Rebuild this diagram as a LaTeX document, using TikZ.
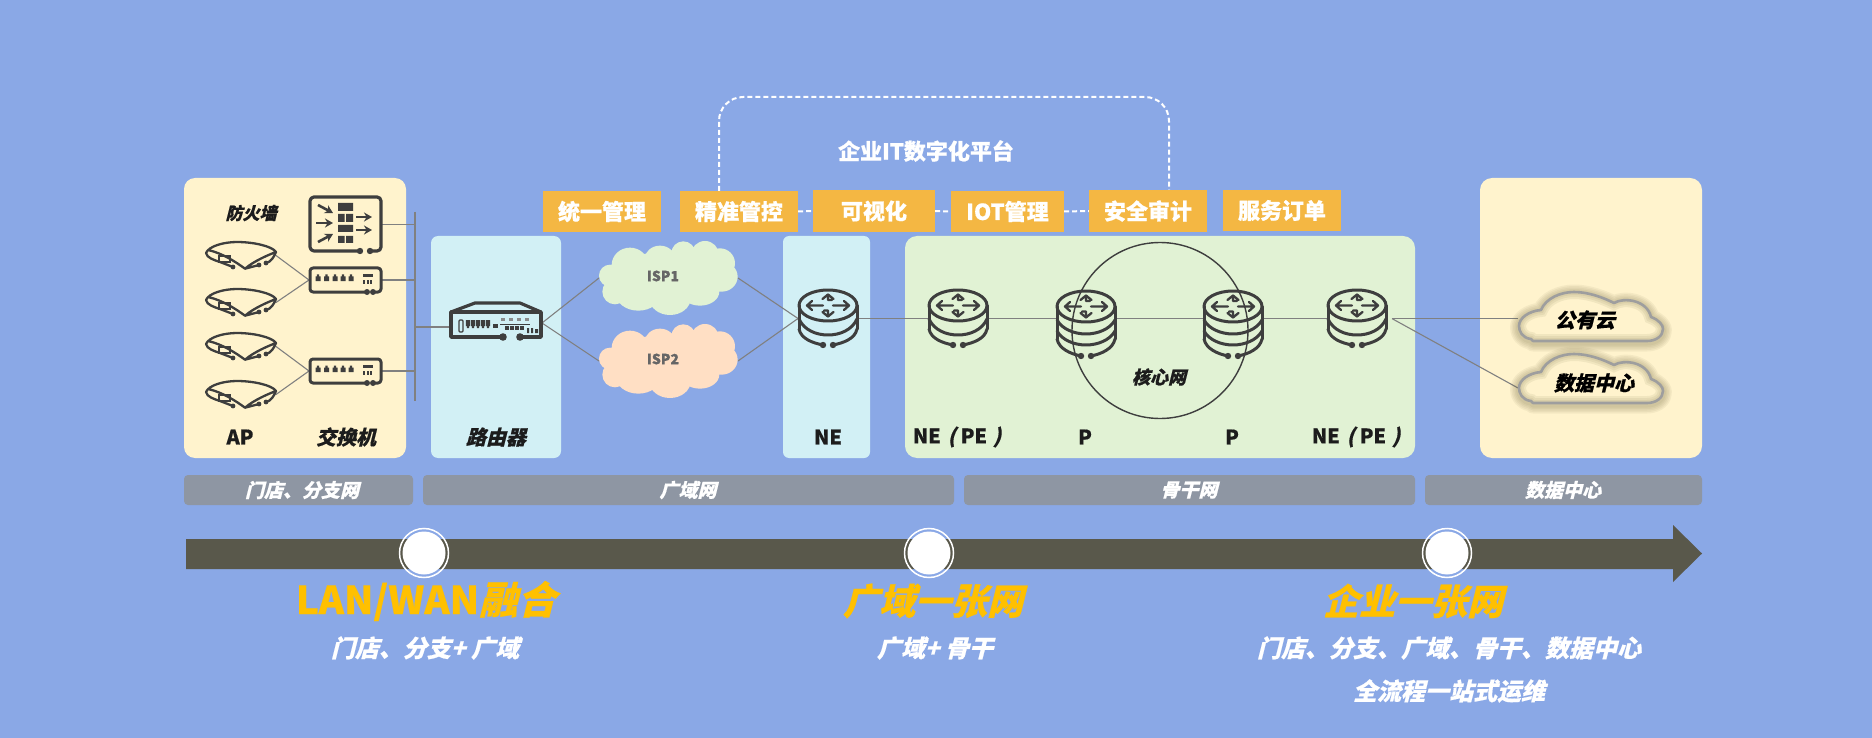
\documentclass[tikz,border=0pt]{standalone}
\usepackage{fontspec}
\setmainfont{Noto Sans CJK SC}[BoldFeatures={FakeBold=0.6}]
\newfontfamily\cjkit{Noto Sans CJK SC}[FakeSlant=0.25,BoldFeatures={FakeBold=0.6}]
\definecolor{bgblue}{RGB}{138,168,230}
\definecolor{paneY}{RGB}{255,243,205}
\definecolor{paneB}{RGB}{210,240,245}
\definecolor{paneG}{RGB}{225,242,212}
\definecolor{boxO}{RGB}{244,183,67}
\definecolor{stripG}{RGB}{142,150,163}
\definecolor{arrowD}{RGB}{89,88,75}
\definecolor{icondk}{RGB}{62,62,62}
\definecolor{linkG}{RGB}{128,128,128}
\definecolor{gold}{RGB}{255,192,0}
\definecolor{ispO}{RGB}{255,223,196}
\definecolor{txtD}{RGB}{28,28,28}
\definecolor{cloudL}{RGB}{158,158,158}
\definecolor{glow}{RGB}{110,100,60}
\newcommand{\fsz}[1]{\fontsize{#1}{#1}\selectfont}
\newcommand{\cyltop}{%
  \draw[icon] (30,16.5) ellipse [x radius=29, y radius=15.5];
  \draw[icon,line width=2.3pt]
    (25,16.5)--(9,16.5) (14,12)--(9,16.5)--(14,21)
    (35,16.5)--(51,16.5) (46,12)--(51,16.5)--(46,21)
    (24.5,10)--(30,5.5)--(35.5,10) (30,5.5)--(30,11)--(34,11)
    (24.5,23)--(30,27.5)--(35.5,23) (30,27.5)--(30,21.5)--(26,21.5);
}
\newcommand{\peText}{NE\hspace{7pt}{\cjkit(}\hspace{5pt}PE\hspace{6pt}{\cjkit)}}
\tikzset{
  x=1pt,y=-1pt,
  icon/.style={draw=icondk,line width=3pt,line cap=round,line join=round},
  link/.style={draw=linkG,line width=1.1pt},
  panel/.style={rounded corners=#1},
  iconbox/.style={inner sep=0pt,outer sep=0pt,anchor=north west},
  orangebox/.style={fill=boxO,inner sep=0pt,text=white,font=\bfseries\fsz{22}},
  strip/.style={fill=stripG,rounded corners=4pt},
  striptext/.style={text=white,font=\cjkit\bfseries\fsz{19}},
  lbl/.style={text=txtD,font=\bfseries\fsz{20}},
  lblit/.style={text=txtD,font=\cjkit\bfseries\fsz{20}},
  headline/.style={text=gold,font=\bfseries\fsz{38.5}},
  subline/.style={text=white,font=\cjkit\bfseries\fsz{24}},
  dashline/.style={draw=white,line width=2pt,dash pattern=on 5pt off 3pt},
  pics/cyltwo/.style={code={
    \cyltop
    \draw[icon] (1,16.5)--(1,40) (59,16.5)--(59,40);
    \draw[icon] (1,30) .. controls (6,41) and (18,46) .. (30,46) .. controls (42,46) and (54,41) .. (59,30);
    \draw[icon] (1,40) .. controls (3,50) and (15,54) .. (25,56);
    \draw[icon] (59,40) .. controls (57,50) and (45,54) .. (35,56);
    \fill[icondk] (25,56) circle (3.2pt) (35,56) circle (3.2pt);
  }},
  pics/cylthree/.style={code={
    \begin{scope}[yshift=-1pt]
    \cyltop
    \draw[icon] (1,16.5)--(1,49) (59,16.5)--(59,49);
    \draw[icon] (1,30) .. controls (6,39) and (18,44) .. (30,44) .. controls (42,44) and (54,39) .. (59,30);
    \draw[icon] (1,41) .. controls (6,50) and (18,55) .. (30,55) .. controls (42,55) and (54,50) .. (59,41);
    \draw[icon] (1,49) .. controls (3,59) and (15,64) .. (25,66);
    \draw[icon] (59,49) .. controls (57,59) and (45,64) .. (35,66);
    \fill[icondk] (25,66) circle (3.2pt) (35,66) circle (3.2pt);
    \end{scope}
  }},
  pics/apicon/.style={code={
    \draw[icondk,line width=2.3pt,line cap=round,line join=round]
      (0,11) .. controls (3,4) and (18,0) .. (31,0) .. controls (47,0) and (66,4) .. (70,10)
      .. controls (62,13) and (48,19) .. (39,26.7)
      .. controls (30,20) and (16,11) .. (2,8)
      (0,11) .. controls (1,16) and (8,18) .. (14,20) -- (27,25)
      (39,26.7) -- (53,23) (60,21) .. controls (65,20) and (68,15) .. (70,10);
    \draw[icondk,line width=1.4pt] (13,14) rectangle (24,20);
    \fill[icondk] (27,25) circle (2.4pt) (53,23) circle (2.4pt) (60,21) circle (2.4pt);
  }},
  pics/swicon/.style={code={
    \draw[icondk,line width=3pt,line cap=round,line join=round,rounded corners=3pt]
      (58,25) -- (1,25) -- (1,1) -- (72,1) -- (72,25) -- (64,25);
    \fill[icondk] (58,25) circle (3pt) (64,25) circle (3pt);
    \foreach \px in {9,17.5,26,34,42}
      {\fill[icondk] (\px-2.5,14) rectangle (\px+2.5,9.5) (\px-1.2,9.5) rectangle (\px+1.2,7.5);}
    \fill[icondk] (54,7) rectangle (63.5,10);
    \foreach \px in {54,57.5,61}
      {\fill[icondk] (\px,13) rectangle (\px+2.4,17);}
  }},
  pics/fwicon/.style={code={
    \draw[icondk,line width=3.2pt,line cap=round,line join=round,rounded corners=4pt]
      (51,55) -- (1,55) -- (1,1) -- (72,1) -- (72,55) -- (61,55);
    \fill[icondk] (51,55) circle (3.2pt) (61,55) circle (3.2pt);
    \fill[icondk] (29,7) rectangle (44,15) (29,18) rectangle (35.5,26) (37,18) rectangle (44,26)
      (29,29) rectangle (44,36) (29,40) rectangle (35.5,47) (37,40) rectangle (44,47);
    \begin{scope}[icondk,line width=2.6pt,-{Stealth[length=8pt,width=9pt]}]
      \draw (9,9)--(24,17);
      \draw (7,27)--(24,27);
      \draw (9,46)--(24,38);
      \draw (47,21)--(63,21);
      \draw (47,34)--(63,34);
    \end{scope}
  }},
  pics/rticon/.style={code={
    \draw[icondk,line width=3.2pt,line join=round] (0,10)--(24,1)--(69,1)--(90,10);
    \draw[icondk,line width=3.4pt,line join=round]
      (52,35)--(0,35)--(0,10)--(90,10)--(90,35)--(69,35);
    \fill[icondk] (52,35) circle (3.8pt) (69,35) circle (3.8pt);
    \draw[icondk,line width=1.3pt,rounded corners=1pt] (8,18) rectangle (12,30);
    \foreach \px in {17,22,27,32,37}
      {\fill[icondk] (\px-2.2,18) rectangle (\px+2.2,24) (\px-1.1,24) rectangle (\px+1.1,26);}
    \fill[icondk] (42,26) rectangle (47,22);
    \foreach \px in {51.5,59.5,67.5,76}
      {\fill[icondk!60] (\px-2,15.5) rectangle (\px+2,19);}
    \draw[icondk,line width=1pt] (49,22)--(79,22);
    \foreach \px in {56,61,66,71}
      {\fill[icondk] (\px-2,24) rectangle (\px+2,28);}
    \fill[icondk] (76,26) rectangle (78,31) (80,26) rectangle (82,31) (84,27) rectangle (87,31);
  }},
  pics/ispcloud/.style={code={
    \begin{scope}[x=.3333pt,y=-.3333pt,xshift=-19pt,yshift=21pt]
    \fill[#1] (90,167) circle (33)
      (150,135) ellipse [x radius=55,y radius=52]
      (240,115) ellipse [x radius=45,y radius=38]
      (310,100) circle (36)
      (375,105) circle (42)
      (420,130) circle (45)
      (425,170) ellipse [x radius=48,y radius=45]
      (360,215) ellipse [x radius=58,y radius=42]
      (270,235) ellipse [x radius=62,y radius=50]
      (175,220) ellipse [x radius=68,y radius=52]
      (105,215) circle (38)
      (260,170) ellipse [x radius=160,y radius=75];
    \end{scope}
  }},
  pics/dccloud/.style={code={
    \def\cloudpath{(12,48) .. controls (3,47) and (0,40) .. (0,35)
      .. controls (0,27) and (10,20) .. (22,19)
      .. controls (27,7) and (42,1) .. (55,1)
      .. controls (70,1) and (85,7) .. (95,12)
      .. controls (105,6) and (128,9) .. (132,26)
      .. controls (140,29) and (144,34) .. (144,38)
      .. controls (144,45) and (137,50) .. (128,50) -- (14,50) -- cycle}
    \foreach \w in {18,15,12,9,6}
      {\draw[glow,line width=\w pt,opacity=.07,line join=round,yshift=-1.5pt] \cloudpath;}
    \fill[paneY] \cloudpath;
    \begin{scope}
    \clip \cloudpath;
    \foreach \w in {14,10,6}
      {\draw[glow,line width=\w pt,opacity=.09] \cloudpath;}
    \end{scope}
    \draw[cloudL,line width=2.6pt,line join=round] \cloudpath;
  }},
}
\usetikzlibrary{arrows.meta}
\begin{document}
\begin{tikzpicture}
\useasboundingbox (0,0) rectangle (1872,738);
\fill[bgblue] (0,0) rectangle (1872,738);

% panels
\fill[paneY,panel=11pt] (184,178) rectangle (406,458);
\fill[paneB,panel=7pt] (431,236) rectangle (561,458);
\fill[paneB,panel=6pt] (783,236) rectangle (870,458);
\fill[paneG,panel=12pt] (905,236) rectangle (1415,458);
\fill[paneY,panel=12pt] (1480,178) rectangle (1702,458);

% dashed platform frame
\coordinate (dashA) at (719,191);
\coordinate (dashB) at (1169,190);
\draw[dashline,rounded corners=24pt] (dashA) -- (719,97) -- (1169,97) -- (dashB);
\node[lbl,text=white,font=\bfseries\fsz{22}] (plat) at (926,151) {企业IT数字化平台};

% orange boxes
\node[orangebox,minimum width=118pt,minimum height=41pt] (b1) at (602,211.5) {统一管理};
\node[orangebox,minimum width=118pt,minimum height=41pt] (b2) at (739,211.5) {精准管控};
\node[orangebox,minimum width=122pt,minimum height=42pt] (b3) at (874,211) {可视化};
\node[orangebox,minimum width=113pt,minimum height=41pt] (b4) at (1007.5,211.5) {IOT管理};
\node[orangebox,minimum width=118pt,minimum height=42pt] (b5) at (1148,211) {安全审计};
\node[orangebox,minimum width=118pt,minimum height=41pt] (b6) at (1282,210.5) {服务订单};
\draw[dashline] (b2.east) -- (b3.west);
\draw[dashline] (b3.east) -- (b4.west);
\draw[dashline] (b4.east) -- (b5.west);

% nodes for icons
\node[iconbox,minimum width=73pt,minimum height=57pt] (fw) at (309,196) {};
\node[iconbox,minimum width=73pt,minimum height=26pt] (sw1) at (309,267) {};
\node[iconbox,minimum width=73pt,minimum height=26pt] (sw2) at (309,358) {};
\node[iconbox,minimum width=70pt,minimum height=27pt] (ap1) at (206,242) {};
\node[iconbox,minimum width=70pt,minimum height=27pt] (ap2) at (206,289) {};
\node[iconbox,minimum width=70pt,minimum height=27pt] (ap3) at (206,333) {};
\node[iconbox,minimum width=70pt,minimum height=27pt] (ap4) at (206,381) {};
\node[iconbox,minimum width=90pt,minimum height=36pt] (rt) at (451,302) {};
\node[iconbox,minimum width=139pt,minimum height=74pt] (isp1) at (599,241) {};
\node[iconbox,minimum width=139pt,minimum height=74pt] (isp2) at (599,324) {};
\node[iconbox,minimum width=60pt,minimum height=59pt] (ne0) at (798,289) {};
\node[iconbox,minimum width=60pt,minimum height=59pt] (pe1) at (928,289) {};
\node[iconbox,minimum width=60pt,minimum height=59pt] (p1) at (1056,289) {};
\node[iconbox,minimum width=60pt,minimum height=59pt] (p2) at (1203,289) {};
\node[iconbox,minimum width=60pt,minimum height=59pt] (pe2) at (1327,289) {};
\node[iconbox,minimum width=144pt,minimum height=50pt] (cl1) at (1519,291) {};
\node[iconbox,minimum width=144pt,minimum height=50pt] (cl2) at (1519,353) {};

\coordinate (busT) at (415,212);
\coordinate (busB) at (415,401);
\coordinate (rtL) at (449,327);
\coordinate (rtR) at (542,323);
\coordinate (peR) at (1392,318.6);
\coordinate (cl1L) at (1518,318.6);
\coordinate (cl2L) at (1518,388);

% connectors
\draw[link] (busT) -- (busB);
\draw[link] (fw.east) -- (fw.east -| busT);
\draw[link] (sw1.east) -- (sw1.east -| busT);
\draw[link] (sw2.east) -- (sw2.east -| busT);
\draw[link] (rtL) -- (rtL -| busT);
\draw[link] (ap1.east) -- (sw1.west);
\draw[link] (ap2.east) -- (sw1.west);
\draw[link] (ap3.east) -- (sw2.west);
\draw[link] (ap4.east) -- (sw2.west);
\draw[link] (rtR) -- (isp1.west);
\draw[link] (rtR) -- (isp2.west);
\draw[link] (isp1.east) -- (ne0.west);
\draw[link] (isp2.east) -- (ne0.west);
\draw[link] (ne0.east) -- (pe1.west);
\draw[link] (pe1.east) -- (p1.west);
\draw[link] (p1.east) -- (p2.west);
\draw[link] (p2.east) -- (pe2.west);
\draw[link] (peR) -- (cl1L);
\draw[link] (peR) -- (cl2L);

% icons
\path (fw.north west) pic {fwicon};
\path (sw1.north west) pic {swicon};
\path (sw2.north west) pic {swicon};
\path (ap1.north west) pic {apicon};
\path (ap2.north west) pic {apicon};
\path (ap3.north west) pic {apicon};
\path (ap4.north west) pic {apicon};
\path (rt.north west) pic {rticon};
\path (isp1.north west) pic {ispcloud={paneG}};
\path (isp2.north west) pic {ispcloud={ispO}};
\path (ne0.north west) pic {cyltwo};
\path (pe1.north west) pic {cyltwo};
\path (p1.north west) pic {cylthree};
\path (p2.north west) pic {cylthree};
\path (pe2.north west) pic {cyltwo};
\path (cl1.north west) pic {dccloud};
\path (cl2.north west) pic {dccloud};

% core network circle
\node[draw=icondk,line width=1.4pt,circle,minimum size=176pt,inner sep=0pt] (core) at (1160,330.5) {};

% labels in panels
\node[lblit,font=\cjkit\bfseries\fsz{17}] (tFw) at (251,213) {防火墙};
\node[lbl] (tAp) at (240,437) {AP};
\node[lblit] (tSw) at (346,437) {交换机};
\node[lblit] (tRt) at (496,437) {路由器};
\node[lbl,text=black!60,font=\bfseries\fsz{14}] (tI1) at (663,276) {ISP1};
\node[lbl,text=black!60,font=\bfseries\fsz{14}] (tI2) at (663,359) {ISP2};
\node[lbl] (tNe) at (828,437) {NE};
\node[lbl] (tPe1) at (957,437) {\peText};
\node[lbl] (tP1) at (1085,437) {P};
\node[lbl] (tP2) at (1232,437) {P};
\node[lbl] (tPe2) at (1356,437) {\peText};
\node[lblit,font=\cjkit\bfseries\fsz{18}] (tCore) at (1159,377) {核心网};
\node[lblit,text=black] (tCl1) at (1585,320) {公有云};
\node[lblit,text=black] (tCl2) at (1594,383) {数据中心};

% strips
\fill[strip] (184,475) rectangle (413,505);
\fill[strip] (423,475) rectangle (954,505);
\fill[strip] (964,475) rectangle (1415,505);
\fill[strip] (1425,475) rectangle (1702,505);
\node[striptext] (s1) at (302,490) {门店、分支网};
\node[striptext] (s2) at (688,490) {广域网};
\node[striptext] (s3) at (1189,490) {骨干网};
\node[striptext] (s4) at (1563,490) {数据中心};

% timeline arrow
\fill[arrowD] (186,539) -- (1673,539) -- (1673,525) -- (1702,553.5) -- (1673,582) -- (1673,569) -- (186,569) -- cycle;
\foreach \cx/\nm in {424/m1,929/m2,1447/m3}{
  \node[draw=white,line width=1.5pt,circle,minimum size=49pt,inner sep=0pt] (\nm o) at (\cx,553) {};
  \node[fill=white,circle,minimum size=43pt,inner sep=0pt] (\nm) at (\cx,553) {};
}

% headlines
\node[headline] (h1) at (426,601) {LAN/WAN{\cjkit 融合}};
\node[headline,font=\cjkit\bfseries\fsz{36}] (h2) at (933,601) {广域一张网};
\node[headline,font=\cjkit\bfseries\fsz{36}] (h3) at (1413,601) {企业一张网};
\node[subline] (l1) at (425,648) {门店、分支+ 广域};
\node[subline] (l2) at (935,648) {广域+ 骨干};
\node[subline] (l3) at (1449,648) {门店、分支、广域、骨干、数据中心};
\node[subline] (l4) at (1449,691) {全流程一站式运维};
\end{tikzpicture}
\end{document}
